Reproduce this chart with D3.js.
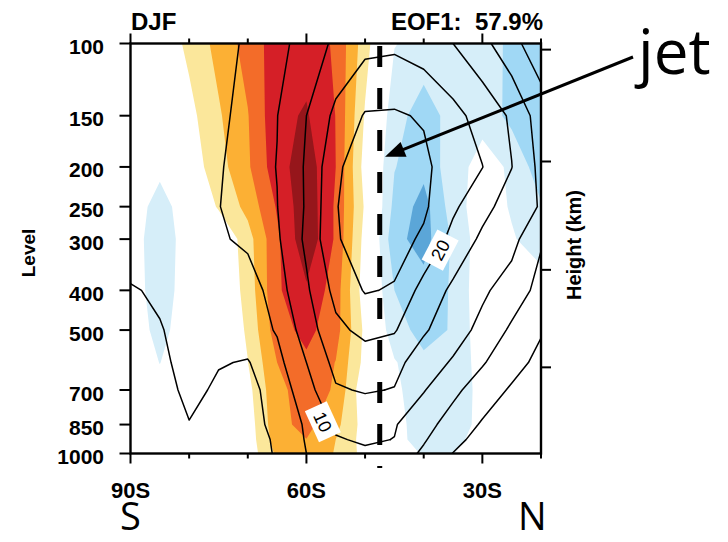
<!DOCTYPE html>
<html>
<head>
<meta charset="utf-8">
<script src="https://cdn.jsdelivr.net/npm/d3@7"></script>
<style>
  body { margin: 0; background: #fff; }
  svg { display: block; font-family: "Liberation Sans", Arial, Helvetica, sans-serif; }
</style>
</head>
<body>
<div id="chart"></div>
<script>
// grid: latitude columns, pressure rows (top to bottom)
const lats = [-90, -85, -80, -75, -70, -65, -60, -55, -50, -45, -40, -35, -30, -25, -20];
const levels = [100, 150, 200, 250, 300, 400, 500, 600, 700, 850, 925, 1000];

// EOF1 regression (shaded), one row per level
const eof = [
  [0.0, 0.2, 1.26, 2.32, 3.39, 4.5, 4.6, 3.85, 1.43, -0.95, -1.4, -1.5, -1.65, -2.15, -2.5],
  [-0.1, -0.25, 0.68, 1.87, 2.95, 4.75, 5.1, 3.98, 0.89, -1.63, -2.45, -1.65, -1.35, -2.31, -2.45],
  [-0.2, -0.7, 0.4, 1.58, 2.85, 4.6, 5.55, 4.0, 0.55, -1.95, -2.7, -1.45, -0.6, -1.15, -2.6],
  [-0.3, -1.5, -0.3, 1.12, 2.31, 4.1, 5.7, 3.85, 0.85, -2.3, -3.4, -1.5, -0.4, -1.1, -1.9],
  [-0.5, -1.6, -0.5, -0.05, 1.58, 3.8, 5.75, 3.85, 0.6, -2.7, -3.4, -1.85, -0.4, -0.9, -1.5],
  [-0.45, -1.55, -0.45, -0.1, 1.39, 3.84, 4.85, 3.5, 0.4, -2.0, -2.6, -1.88, -0.25, -0.3, -0.5],
  [-0.35, -1.35, -0.35, -0.05, 1.15, 3.57, 4.3, 3.4, 0.75, -1.7, -2.25, -1.94, -0.3, -0.1, -0.1],
  [-0.3, -1.02, -0.3, 0.0, 0.98, 3.0, 3.8, 2.97, 0.66, -0.9, -1.85, -1.65, -0.6, -0.1, 0.0],
  [-0.25, -0.7, -0.25, 0.0, 0.67, 2.8, 3.35, 2.92, 0.15, -0.8, -1.55, -1.5, -0.75, -0.1, 0.0],
  [-0.1, -0.3, -0.1, 0.0, 0.44, 2.69, 3.3, 2.3, 0.55, -0.75, -1.35, -1.35, -0.8, -0.1, 0.0],
  [-0.1, -0.2, -0.1, 0.0, 0.4, 2.52, 2.98, 2.0, 0.56, -0.8, -1.25, -1.2, -0.72, -0.1, 0.0],
  [-0.05, -0.1, -0.05, 0.0, 0.35, 2.2, 2.8, 1.92, 0.65, -0.7, -1.05, -1.02, -0.6, -0.1, 0.0]
];

// climatological zonal wind (m/s), contoured
const uwind = [
  [2, 2.5, 3, 3.8, 5.5, 8.5, 12, 16, 18.5, 19, 17.5, 15, 11.5, 6.5, 2],
  [2, 2.5, 3, 4, 6.5, 9.9, 15, 21.2, 25.4, 25.6, 24.5, 21.5, 18.1, 14.3, 7.5],
  [2, 2.5, 3.2, 4.3, 8.2, 10.1, 15.6, 23.9, 28.5, 28.8, 26.2, 22, 20.1, 15.1, 8.7],
  [2, 2.5, 3.4, 4.8, 7.8, 9.9, 15.5, 24.6, 29.5, 29.7, 25.8, 20.9, 16.5, 12.8, 9.6],
  [2, 2.5, 3.2, 4.2, 6.2, 9.3, 16.0, 24.6, 27, 26.8, 24.25, 18.4, 14.1, 11.6, 5.5],
  [-0.3, 0.5, 1.0, 1.5, 2.0, 7.8, 14.2, 21.5, 25.35, 24.6, 18.1, 14.05, 10.8, 7.8, 3.37],
  [-0.6, -0.2, 1.2, 1.0, 2.5, 5.4, 12.5, 18.8, 21.3, 20.4, 15.6, 12.1, 8.7, 4.15, 0.5],
  [-0.8, -0.5, 0.8, 0.3, -0.3, 3.46, 10, 16.5, 17.5, 16.5, 12.4, 9.5, 5.4, 2.0, -1.5],
  [-1.5, -2.2, 1.35, -0.8, -1.3, 1.79, 8.1, 14.5, 15.4, 14.8, 10.3, 6.0, 2.8, -0.65, -2.5],
  [-1.5, -1.5, -0.2, -1.2, -1.8, 1.3, 5.65, 10.9, 11.6, 10.4, 6.5, 3.2, -0.54, -2.5, -3.5],
  [-1.5, -1.5, -1.0, -1.5, -1.8, 0.56, 5.4, 9.6, 10.6, 9.9, 5.5, 1.2, -1.5, -3.0, -4.0],
  [-1.2, -1.2, -1.0, -1.2, -1.5, 0.3, 5.0, 8.5, 9.2, 8.0, 4.13, -0.1, -2.0, -3.0, -3.5]
];

const posLevels = [1, 2, 3, 4, 5];
const posColors = ["#fbe79b", "#fcb034", "#f36c29", "#d51f27", "#96161b"];
const negLevels = [1, 2, 3];   // applied to -eof
const negColors = ["#d6eef9", "#a0d8f5", "#5ba6d8"];
const lineLevels = [0, 5, 10, 15, 20, 25, 30];

const levelTicks = [100, 150, 200, 250, 300, 400, 500, 700, 850, 1000];
const latTicks = [-90, -80, -70, -60, -50, -40, -30, -20];
const latMajor = {"-90": "90S", "-60": "60S", "-30": "30S"};
const heightKm = [16, 12, 8, 4];
const heightPres = [103.5, 194.0, 356.5, 616.4];   // standard atmosphere

const jetLat = -47.5;
const labelSpots = [{level: 10, lat: -57.2, p: 837}, {level: 20, lat: -37.2, p: 319}];
const arrowTip = {lat: -46.6, p: 189};

const width = 728, height = 542;
const x = d3.scaleLinear().domain([-90, -20]).range([130.5, 541]);
const y = d3.scaleLog().domain([100, 1000]).range([43.5, 453.5]);

const svg = d3.select("#chart").append("svg")
  .attr("width", width)
  .attr("height", height);

svg.append("rect").attr("width", width).attr("height", height).attr("fill", "#fff");

svg.append("clipPath").attr("id", "plot")
  .append("rect")
  .attr("x", x(-90)).attr("y", y(100))
  .attr("width", x(-20) - x(-90)).attr("height", y(1000) - y(100));

// grid coordinate -> pixels (grid value i sits at i + 0.5)
const nx = lats.length, ny = levels.length;
function colPx(c) {
  const i = Math.max(0, Math.min(nx - 1, c - 0.5));
  const i0 = Math.min(Math.floor(i), nx - 2);
  const t = i - i0;
  return x(lats[i0] + t * (lats[i0 + 1] - lats[i0]));
}
function rowPx(r) {
  const j = Math.max(0, Math.min(ny - 1, r - 0.5));
  const j0 = Math.min(Math.floor(j), ny - 2);
  const t = j - j0;
  return y(levels[j0]) + t * (y(levels[j0 + 1]) - y(levels[j0]));
}
const proj = d3.geoTransform({
  point: function (px, py) { this.stream.point(colPx(px), rowPx(py)); }
});
const path = d3.geoPath(proj);

const flatEof = eof.flat();
const flatNeg = flatEof.map((v) => -v);
const flatU = uwind.flat();

const plot = svg.append("g").attr("clip-path", "url(#plot)");

plot.selectAll("path.pos")
  .data(d3.contours().size([nx, ny]).thresholds(posLevels)(flatEof))
  .enter().append("path")
  .attr("class", "pos")
  .attr("d", path)
  .attr("fill", (d, i) => posColors[i]);

plot.selectAll("path.neg")
  .data(d3.contours().size([nx, ny]).thresholds(negLevels)(flatNeg))
  .enter().append("path")
  .attr("class", "neg")
  .attr("d", path)
  .attr("fill", (d, i) => negColors[i]);

// contour lines: drop the pieces of the rings that run along the grid border
function isolines(geom) {
  const lines = [];
  const edge = (a, b) =>
    (a[0] <= 0.5 && b[0] <= 0.5) || (a[0] >= nx - 0.5 && b[0] >= nx - 0.5) ||
    (a[1] <= 0.5 && b[1] <= 0.5) || (a[1] >= ny - 0.5 && b[1] >= ny - 0.5);
  geom.coordinates.forEach((poly) => poly.forEach((ring) => {
    let cur = [];
    for (let k = 1; k < ring.length; k++) {
      const a = ring[k - 1], b = ring[k];
      if (edge(a, b)) {
        if (cur.length > 1) lines.push(cur);
        cur = [];
        continue;
      }
      if (!cur.length) cur.push([colPx(a[0]), rowPx(a[1])]);
      cur.push([colPx(b[0]), rowPx(b[1])]);
    }
    if (cur.length > 1) lines.push(cur);
  }));
  return lines;
}

const uContours = d3.contours().size([nx, ny]).thresholds(lineLevels)(flatU);
const lineGen = d3.line();
const linesByLevel = {};
uContours.forEach((c) => {
  const ls = isolines(c);
  linesByLevel[c.value] = ls;
  plot.selectAll(null)
    .data(ls)
    .enter().append("path")
    .attr("d", lineGen)
    .attr("fill", "none")
    .attr("stroke", "#000")
    .attr("stroke-width", 1.5)
    .attr("stroke-linejoin", "round")
    .attr("stroke-linecap", "round");
});

// contour labels
labelSpots.forEach((s) => {
  const target = [x(s.lat), y(s.p)];
  let best = null, bd = Infinity;
  (linesByLevel[s.level] || []).forEach((ln) => {
    ln.forEach((p, k) => {
      const d = (p[0] - target[0]) ** 2 + (p[1] - target[1]) ** 2;
      if (d < bd) { bd = d; best = {ln: ln, k: k}; }
    });
  });
  if (!best) return;
  const ln = best.ln, k = best.k;
  const a = ln[Math.max(0, k - 1)], b = ln[Math.min(ln.length - 1, k + 1)];
  let ang = Math.atan2(b[1] - a[1], b[0] - a[0]) * 180 / Math.PI;
  if (ang > 90) ang -= 180;
  if (ang < -90) ang += 180;
  const g = plot.append("g")
    .attr("transform", "translate(" + target[0] + "," + target[1] + ") rotate(" + ang + ")");
  g.append("rect")
    .attr("x", -17).attr("y", -12).attr("width", 34).attr("height", 24)
    .attr("fill", "#fff");
  g.append("text")
    .text(s.level)
    .attr("text-anchor", "middle")
    .attr("dy", "0.36em")
    .style("font-size", "18px");
});

// jet latitude
svg.append("line")
  .attr("x1", x(jetLat)).attr("x2", x(jetLat))
  .attr("y1", y(100) + 2.5).attr("y2", y(1000) + 14.5)
  .attr("stroke", "#000")
  .attr("stroke-width", 5)
  .attr("stroke-dasharray", "21,21");

// frame
svg.append("rect")
  .attr("x", x(-90)).attr("y", y(100))
  .attr("width", x(-20) - x(-90)).attr("height", y(1000) - y(100))
  .attr("fill", "none")
  .attr("stroke", "#000")
  .attr("stroke-width", 2.4);

// lat ticks top and bottom
latTicks.forEach((t) => {
  const len = latMajor[t] ? 10 : 5;
  svg.append("line").attr("x1", x(t)).attr("x2", x(t))
    .attr("y1", y(100)).attr("y2", y(100) - len)
    .attr("stroke", "#000").attr("stroke-width", 2);
  svg.append("line").attr("x1", x(t)).attr("x2", x(t))
    .attr("y1", y(1000)).attr("y2", y(1000) + len)
    .attr("stroke", "#000").attr("stroke-width", 2);
  if (latMajor[t]) {
    svg.append("text").text(latMajor[t])
      .attr("x", x(t)).attr("y", 498)
      .attr("text-anchor", "middle")
      .style("font-size", "22px").style("font-weight", "bold");
  }
});

// pressure ticks
levelTicks.forEach((p) => {
  svg.append("line").attr("x1", x(-90) - 11).attr("x2", x(-90))
    .attr("y1", y(p)).attr("y2", y(p))
    .attr("stroke", "#000").attr("stroke-width", 2);
  svg.append("text").text(p)
    .attr("x", 104).attr("y", y(p) + 3)
    .attr("text-anchor", "end")
    .attr("dy", "0.36em")
    .style("font-size", "21px").style("font-weight", "bold");
});

// height ticks (right)
heightPres.forEach((p) => {
  svg.append("line").attr("x1", x(-20)).attr("x2", x(-20) + 10)
    .attr("y1", y(p)).attr("y2", y(p))
    .attr("stroke", "#000").attr("stroke-width", 2);
});

svg.append("text").text("DJF")
  .attr("x", 131).attr("y", 30)
  .style("font-size", "24px").style("font-weight", "bold");
svg.append("text").text("EOF1:  57.9%")
  .attr("x", 543).attr("y", 30)
  .attr("text-anchor", "end")
  .attr("xml:space", "preserve")
  .style("white-space", "pre")
  .style("font-size", "24px").style("font-weight", "bold");

svg.append("text").text("Level")
  .attr("transform", "translate(35,253) rotate(-90)")
  .attr("text-anchor", "middle")
  .style("font-size", "19px").style("font-weight", "bold");
svg.append("text").text("Height (km)")
  .attr("transform", "translate(581,245) rotate(-90)")
  .attr("text-anchor", "middle")
  .style("font-size", "20px").style("font-weight", "bold");

// S / N and jet annotation
const big = "'Open Sans', 'DejaVu Sans', sans-serif";
svg.append("text").text("S").attr("x", 120).attr("y", 530)
  .style("font-family", big).style("font-size", "38px");
svg.append("text").text("N").attr("x", 518).attr("y", 530)
  .style("font-family", big).style("font-size", "38px");
svg.append("text").text("jet").attr("x", 638).attr("y", 74)
  .style("font-family", big).style("font-size", "62px");

const tip = [x(arrowTip.lat), y(arrowTip.p)];
const tail = [633, 57];
const dx = tip[0] - tail[0], dy = tip[1] - tail[1];
const L = Math.hypot(dx, dy), ux = dx / L, uy = dy / L;
const headLen = 20, headW = 8;
const base = [tip[0] - ux * headLen, tip[1] - uy * headLen];
svg.append("line")
  .attr("x1", tail[0]).attr("y1", tail[1])
  .attr("x2", base[0] + ux * 2).attr("y2", base[1] + uy * 2)
  .attr("stroke", "#000").attr("stroke-width", 3);
svg.append("path")
  .attr("d", "M" + tip + "L" + [base[0] - uy * headW, base[1] + ux * headW] +
             "L" + [base[0] + uy * headW, base[1] - ux * headW] + "Z")
  .attr("fill", "#000");
</script>
</body>
</html>
